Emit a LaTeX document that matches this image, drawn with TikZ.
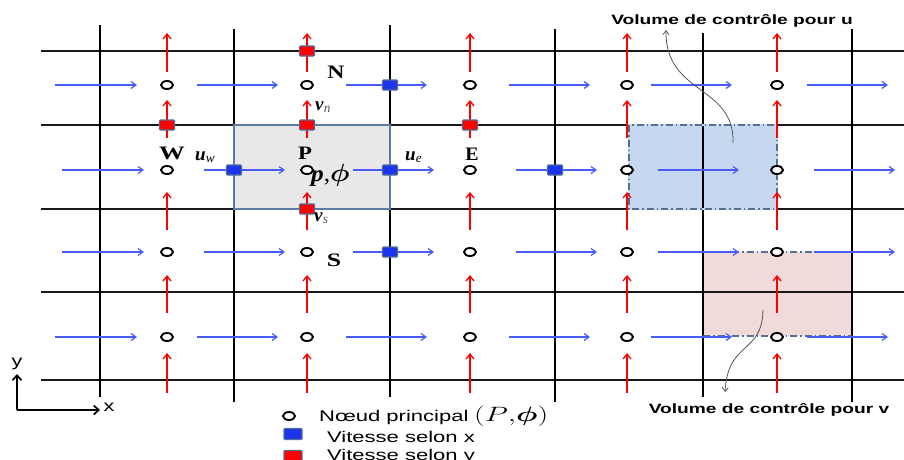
\documentclass[tikz,border=0pt]{standalone}
\usepackage{fontspec}
\setmainfont{Liberation Serif}
\setsansfont{Liberation Sans}
\usepackage{graphicx}
\usepackage{amsmath,bm}
\usetikzlibrary{arrows.meta,shapes.geometric}

\definecolor{ublue}{RGB}{72,92,250}
\definecolor{sqblue}{RGB}{28,52,235}
\definecolor{sqedge}{RGB}{80,110,150}
\definecolor{boxedge}{RGB}{92,125,165}
\definecolor{dashedge}{RGB}{85,110,145}
\definecolor{ufill}{RGB}{198,216,240}
\definecolor{vfill}{RGB}{240,218,218}
\definecolor{pfill}{RGB}{232,232,232}
\definecolor{notegray}{RGB}{85,85,85}

\begin{document}
\begin{tikzpicture}[x=1pt,y=-1pt,
  hline/.style={draw=black!90, line width=1.8pt},
  vline/.style={draw=black, line width=2.6pt},
  varrow/.style={draw=red, line width=1.3pt, -{Straight Barb[length=5pt,width=8pt]}},
  uarrow/.style={draw=ublue, line width=1.2pt, -{Straight Barb[length=5pt,width=7pt]}},
  vsq/.style={rectangle, minimum width=15pt, minimum height=10pt, inner sep=0pt,
    fill=red, draw=sqedge, line width=1.2pt, rounded corners=1pt},
  usq/.style={vsq, fill=sqblue},
  pnode/.style={ellipse, minimum width=12pt, minimum height=8pt, inner sep=0pt,
    draw=black, line width=1.9pt, fill=white},
  letter/.style={font=\fontsize{19}{22}\selectfont\bfseries, inner sep=0pt},
  sym/.style={font=\fontsize{19}{22}\selectfont, inner sep=0pt},
  dashdot/.style={draw=dashedge, line width=1.4pt, dash pattern=on 7pt off 3pt on 1.5pt off 3pt},
  note/.style={inner sep=0pt, font=\fontsize{13.5}{15}\selectfont\sffamily\bfseries},
  notearrow/.style={draw=notegray, line width=0.8pt, -{Straight Barb[length=4pt,width=6pt]}},
  legend/.style={inner sep=0pt, anchor=base west, font=\fontsize{15.5}{18}\selectfont\sffamily},
  axis/.style={draw=black, line width=1.7pt, -{Straight Barb[length=5pt,width=9pt]}}
]
\useasboundingbox (0,0) rectangle (904,459);

% control volume fills
\fill[pfill] (234,125) rectangle (390,209);
\fill[ufill] (629,125) rectangle (777,209);
\fill[vfill] (703,252) rectangle (852,336);

% grid lines
\foreach \y in {51,125,209,292,380}
  \draw[hline] (41,\y) -- (904,\y);
\foreach \x/\a/\b in {100/25/397, 234/29/402, 390/25/397, 555/29/402, 703/33/397, 852/29/402}
  \draw[vline] (\x,\a) -- (\x,\b);

% control volume for the main node
\draw[draw=boxedge, line width=1.8pt] (234,125) rectangle (390,209);
% control volume for u
\draw[draw=ufill, line width=2pt] (629,125) rectangle (777,209);
\draw[dashdot] (629,125) rectangle (777,209);
% control volume for v
\draw[dashdot] (703,252) -- (852,252);
\draw[dashdot] (703,336) -- (852,336);

% v velocity arrows
\foreach \x in {167,307,470,627,777}
  \foreach \a/\b in {72/33, 138/100, 230/192, 313/275, 393/353}
    \draw[varrow] (\x,\a) -- (\x,\b);

% u velocity arrows
\foreach \y/\d in {85/0, 170/7, 252/7, 337/0}
  \foreach \a/\b in {55/137, 197/278, 346/427, 509/590, 651/732, 807/888}
    \draw[uarrow] (\a+\d,\y) -- (\b+\d,\y);

% staggered velocity unknowns
\node[vsq] (vN) at (307,51) {};
\node[vsq] (vW) at (167,125) {};
\node[vsq] (vn) at (307,125) {};
\node[vsq] (vE) at (470,125) {};
\node[vsq] (vs) at (307,209) {};
\node[usq] (uN) at (390,85) {};
\node[usq] (uw) at (234,170) {};
\node[usq] (ue) at (390,170) {};
\node[usq] (uE) at (555,170) {};
\node[usq] (uS) at (390,252) {};

% main nodes
\foreach \x [count=\i] in {167,307,470,627,777}
  \foreach \y [count=\j] in {85,170,252,337}
    \node[pnode] (n\i\j) at (\x,\y) {};

% node and face labels
\node[letter] (labN) at (336,72) {\scalebox{1.25}[1]{N}};
\node[letter] (labW) at (172,153) {\scalebox{1.35}[1]{W}};
\node[letter] (labP) at (305,153) {\scalebox{1.2}[1]{P}};
\node[letter] (labE) at (472,154) {\scalebox{1.05}[1]{E}};
\node[letter] (labS) at (334,260) {\scalebox{1.35}[1]{S}};
\node[sym, anchor=west] (labuw) at (195,157) {\textbf{\textit{u}}\textsubscript{\textit{w}}};
\node[sym, anchor=west] (labue) at (405,157) {\textbf{\textit{u}}\textsubscript{\textit{e}}};
\node[sym, anchor=west] (labvn) at (315,107) {\textbf{\textit{v}}\textsubscript{\color{black!65}\textit{n}}};
\node[sym, anchor=west] (labvs) at (314,218) {\textbf{\textit{v}}\textsubscript{\color{black!65}\textit{s}}};
\node[inner sep=0pt, anchor=west, font=\fontsize{23}{25}\selectfont] (labpphi) at (311,175)
  {\scalebox{1.1}[1]{\textbf{\textit{p}},$\bm{\phi}$}};

% control volume notes
\node[note] (noteu) at (732,21) {\scalebox{1.42}[1]{Volume de contrôle pour u}};
\node[note] (notev) at (769,410) {\scalebox{1.42}[1]{Volume de contrôle pour v}};
\coordinate (cu) at (733,143);
\coordinate (cutip) at (666,30);
\draw[notearrow] (cu) .. controls (735,85) and (665,95) .. (cutip);
\coordinate (cv) at (763,310);
\coordinate (cvtip) at (725,392);
\draw[notearrow] (cv) .. controls (762,355) and (728,340) .. (cvtip);

% axes
\coordinate (O) at (17,410);
\coordinate (Ytip) at (17,374);
\coordinate (Xtip) at (100,410);
\draw[axis] (O) -- (Ytip);
\draw[axis] (O) -- (Xtip);
\node[inner sep=0pt, font=\fontsize{16}{18}\selectfont\sffamily] (axy) at (17,364) {\scalebox{1.35}[1]{y}};
\node[inner sep=0pt, font=\fontsize{16}{18}\selectfont\sffamily] (axx) at (109,407) {\scalebox{1.35}[1]{x}};

% legend
\node[pnode] (legP) at (289,416) {};
\node[usq, minimum width=18pt, minimum height=11pt] (legU) at (293,434) {};
\node[vsq, minimum width=18pt, minimum height=11pt] (legV) at (293,456) {};
\node[legend] (legPtxt) at (319,421) {\scalebox{1.42}[1]{N\oe ud principal}};
\node[legend, font=\fontsize{20}{22}\selectfont] (legPsym) at (474,421) {\scalebox{1.45}[1]{$(P{,}\bm{\phi})$}};
\node[legend] (legUtxt) at (327,442) {\scalebox{1.42}[1]{Vitesse selon x}};
\node[legend] (legVtxt) at (327,460) {\scalebox{1.42}[1]{Vitesse selon y}};
\end{tikzpicture}
\end{document}
